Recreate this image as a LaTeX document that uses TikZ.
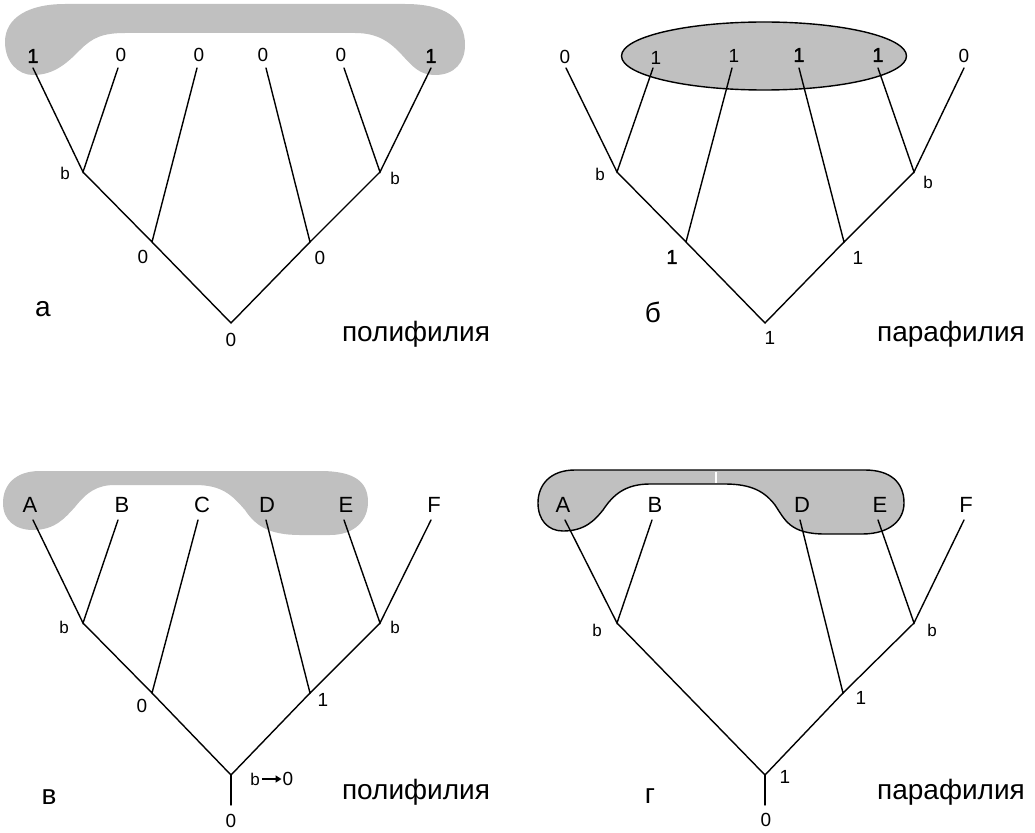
\documentclass[tikz,border=0pt]{standalone}
\usepackage{fontspec}
\setmainfont{Liberation Sans}
\newfontfamily\fbfont[FakeBold=1.5]{Liberation Sans}
\usetikzlibrary{arrows.meta,shapes.geometric}
\definecolor{blobgray}{RGB}{192,192,192}
\tikzset{
  br/.style={line width=1.4pt, line cap=round},
  dig/.style={inner sep=0pt, font=\fontsize{19}{19}\selectfont},
  digb/.style={inner sep=0pt, font=\fbfont\fontsize{20}{20}\selectfont},
  bl/.style={inner sep=0pt, font=\fontsize{17}{17}\selectfont},
  taxon/.style={inner sep=0pt, font=\fontsize{22}{22}\selectfont},
  big/.style={inner sep=0pt, anchor=base, font=\fontsize{28}{28}\selectfont},
  blob/.style={fill=blobgray},
}
\begin{document}
\begin{tikzpicture}[x=1pt,y=-1pt]
\useasboundingbox (0,0) rectangle (1035,832);

%%%%%%%%%%%%%%%% Panel a %%%%%%%%%%%%%%%%
\fill[blob] (33,75) .. controls (55,75) and (68,62) .. (80,50)
  .. controls (92,38) and (102,33) .. (125,33) -- (355,33)
  .. controls (378,33) and (390,42) .. (402,55)
  .. controls (413,67) and (420,75) .. (435,75)
  .. controls (455,75) and (465,62) .. (465,45)
  .. controls (465,18) and (445,4) .. (405,4) -- (65,4)
  .. controls (28,4) and (5,18) .. (5,42)
  .. controls (5,62) and (18,75) .. (33,75) -- cycle;
\coordinate (aT1) at (33,68);
\coordinate (aT2) at (118,68);
\coordinate (aT3) at (197,68);
\coordinate (aT4) at (266,68);
\coordinate (aT5) at (344,68);
\coordinate (aT6) at (431,68);
\coordinate (aB1) at (83,172);
\coordinate (aN1) at (152,242);
\coordinate (aR) at (231,323);
\coordinate (aN2) at (310,242);
\coordinate (aB2) at (380,172);
\draw[br] (aT1) -- (aB1) -- (aT2);
\draw[br] (aB1) -- (aN1) -- (aT3);
\draw[br] (aN1) -- (aR) -- (aN2);
\draw[br] (aT4) -- (aN2) -- (aB2);
\draw[br] (aT5) -- (aB2) -- (aT6);
\node[digb] (aL1) at (33,56) {1};
\node[dig] (aL2) at (121,55) {0};
\node[dig] (aL3) at (199,55) {0};
\node[dig] (aL4) at (263,55) {0};
\node[dig] (aL5) at (341,55) {0};
\node[digb] (aL6) at (431,56) {1};
\node[bl] (aLb1) at (65,173) {b};
\node[bl] (aLb2) at (395,178) {b};
\node[dig] (aLn1) at (143,257) {0};
\node[dig] (aLn2) at (320,258) {0};
\node[dig] (aLr) at (231,340) {0};
\node[big] (aLet) at (43,316) {а};
\node[big] (aTitle) at (416,341) {полифилия};

%%%%%%%%%%%%%%%% Panel б %%%%%%%%%%%%%%%%
\node[ellipse, draw, fill=blobgray, line width=1.4pt, minimum width=285pt, minimum height=68pt, inner sep=0pt] (bEll) at (764,56) {};
\coordinate (bT1) at (566,68);
\coordinate (bT2) at (653,68);
\coordinate (bT3) at (732,68);
\coordinate (bT4) at (799,68);
\coordinate (bT5) at (878,68);
\coordinate (bT6) at (964,68);
\coordinate (bB1) at (617,172);
\coordinate (bN1) at (686,242);
\coordinate (bR) at (765,323);
\coordinate (bN2) at (844,242);
\coordinate (bB2) at (914,172);
\draw[br] (bT1) -- (bB1) -- (bT2);
\draw[br] (bB1) -- (bN1) -- (bT3);
\draw[br] (bN1) -- (bR) -- (bN2);
\draw[br] (bT4) -- (bN2) -- (bB2);
\draw[br] (bT5) -- (bB2) -- (bT6);
\node[dig] (bL1) at (565,57) {0};
\node[dig] (bL2) at (656,58) {1};
\node[dig] (bL3) at (734,56) {1};
\node[digb] (bL4) at (799,55) {1};
\node[digb] (bL5) at (878,55) {1};
\node[dig] (bL6) at (964,56) {0};
\node[bl] (bLb1) at (600,174) {b};
\node[bl] (bLb2) at (928,182) {b};
\node[digb] (bLn1) at (672,257) {1};
\node[dig] (bLn2) at (858,258) {1};
\node[dig] (bLr) at (770,338) {1};
\node[big] (bLet) at (653,322) {б};
\node[big] (bTitle) at (951,341) {парафилия};

%%%%%%%%%%%%%%%% Panel в %%%%%%%%%%%%%%%%
\fill[blob] (33,530) .. controls (55,530) and (65,518) .. (75,507)
  .. controls (87,492) and (97,485) .. (115,485) -- (195,485)
  .. controls (222,485) and (232,495) .. (245,510)
  .. controls (255,525) and (268,535) .. (300,535) -- (330,535)
  .. controls (355,535) and (368,520) .. (368,502)
  .. controls (368,482) and (355,471) .. (320,471) -- (40,471)
  .. controls (15,471) and (3,485) .. (3,503)
  .. controls (3,520) and (15,530) .. (33,530) -- cycle;
\coordinate (cT1) at (33,520);
\coordinate (cT2) at (118,520);
\coordinate (cT3) at (198,520);
\coordinate (cT4) at (266,520);
\coordinate (cT5) at (344,520);
\coordinate (cT6) at (431,520);
\coordinate (cB1) at (83,623);
\coordinate (cN1) at (152,693);
\coordinate (cR) at (231,775);
\coordinate (cS) at (231,805);
\coordinate (cN2) at (310,693);
\coordinate (cB2) at (380,623);
\draw[br] (cT1) -- (cB1) -- (cT2);
\draw[br] (cB1) -- (cN1) -- (cT3);
\draw[br] (cN1) -- (cR) -- (cN2);
\draw[br] (cT4) -- (cN2) -- (cB2);
\draw[br] (cT5) -- (cB2) -- (cT6);
\draw[br] (cR) -- (cS);
\node[taxon] (cA) at (30,505) {A};
\node[taxon] (cBl) at (122,505) {B};
\node[taxon] (cC) at (202,505) {C};
\node[taxon] (cD) at (267,505) {D};
\node[taxon] (cE) at (346,505) {E};
\node[taxon] (cF) at (434,505) {F};
\node[bl] (cLb1) at (64,627) {b};
\node[bl] (cLb2) at (395,627) {b};
\node[dig] (cLn1) at (142,706) {0};
\node[dig] (cLn2) at (323,700) {1};
\node[bl] (cArrB) at (255,779) {b};
\node[dig] (cArr0) at (288,779) {0};
\draw[line width=2pt, -{Triangle[length=6pt,width=7pt]}] ([xshift=2pt]cArrB.east) -- ([xshift=-1pt]cArr0.west);
\node[dig] (cLr) at (231,821) {0};
\node[big] (cLet) at (49,804) {в};
\node[big] (cTitle) at (416,799) {полифилия};

%%%%%%%%%%%%%%%% Panel г %%%%%%%%%%%%%%%%
\filldraw[blob, draw=black, line width=1.4pt] (563,531) .. controls (585,531) and (595,520) .. (603,510)
  .. controls (613,495) and (625,484) .. (650,484) -- (725,484)
  .. controls (752,484) and (765,492) .. (775,505)
  .. controls (785,520) and (790,534) .. (825,534) -- (862,534)
  .. controls (890,534) and (904,520) .. (904,503)
  .. controls (904,482) and (890,470) .. (865,470) -- (575,470)
  .. controls (550,470) and (538,485) .. (538,503)
  .. controls (538,520) and (548,531) .. (563,531) -- cycle;
\coordinate (dGapT) at (716,471.5);
\coordinate (dGapB) at (716,483);
\draw[white, line width=2.5pt] (dGapT) -- (dGapB);
\coordinate (dT1) at (565,520);
\coordinate (dT2) at (652,520);
\coordinate (dT4) at (800,520);
\coordinate (dT5) at (878,520);
\coordinate (dT6) at (964,520);
\coordinate (dB1) at (617,623);
\coordinate (dR) at (765,775);
\coordinate (dS) at (765,805);
\coordinate (dN2) at (843,693);
\coordinate (dB2) at (914,623);
\draw[br] (dT1) -- (dB1) -- (dT2);
\draw[br] (dB1) -- (dR) -- (dN2);
\draw[br] (dT4) -- (dN2) -- (dB2);
\draw[br] (dT5) -- (dB2) -- (dT6);
\draw[br] (dR) -- (dS);
\node[taxon] (dA) at (563,505) {A};
\node[taxon] (dBl) at (655,505) {B};
\node[taxon] (dD) at (802,505) {D};
\node[taxon] (dE) at (880,505) {E};
\node[taxon] (dF) at (966,505) {F};
\node[bl] (dLb1) at (597,630) {b};
\node[bl] (dLb2) at (932,630) {b};
\node[dig] (dLn2) at (861,698) {1};
\node[dig] (dLr1) at (785,777) {1};
\node[dig] (dLr) at (766,820) {0};
\node[big] (dLet) at (650,803) {г};
\node[big] (dTitle) at (951,799) {парафилия};
\end{tikzpicture}
\end{document}
